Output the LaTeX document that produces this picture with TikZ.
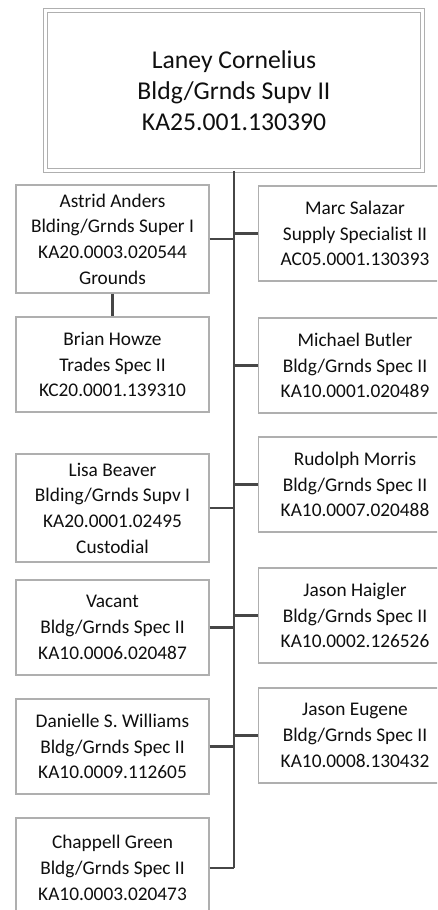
\documentclass[tikz,border=0pt]{standalone}
\usepackage{fontspec}
\setmainfont{Carlito}
\usetikzlibrary{positioning}
\definecolor{boxgray}{RGB}{175,175,175}
\definecolor{linegray}{RGB}{70,70,70}
\definecolor{txtgray}{RGB}{15,15,15}

\begin{document}
\begin{tikzpicture}[x=0.02cm, y=-0.02cm,
  person/.style={draw=boxgray, line width=0.6pt, fill=white, text=txtgray, align=center,
    inner sep=0pt, minimum width=3.86cm, minimum height=1.9cm,
    font=\fontsize{11}{14.6}\selectfont},
  boss/.style={draw=boxgray, double=white, double distance=2pt, line width=0.5pt,
    text=txtgray, align=center, minimum width=7.55cm, minimum height=3.2cm,
    font=\fontsize{14.6}{17.8}\selectfont},
  conn/.style={draw=linegray, line width=1.3pt}]
\clip (0,0) rectangle (437,910);

% Supervisor
\node[boss] (laney) at (234,90.5) {Laney Cornelius\\Bldg/Grnds Supv II\\KA25.001.130390};

% Left column
\node[person, minimum height=2.16cm] (astrid) at (112.5,239) {Astrid Anders\\Blding/Grnds Super I\\KA20.0003.020544\\Grounds};
\node[person] (brian) at (112.5,364.5) {Brian Howze\\Trades Spec II\\KC20.0001.139310};
\node[person, minimum height=2.16cm] (lisa) at (112.5,508) {Lisa Beaver\\Blding/Grnds Supv I\\KA20.0001.02495\\Custodial};
\node[person] (vacant) at (112.5,627.5) {Vacant\\Bldg/Grnds Spec II\\KA10.0006.020487};
\node[person] (danielle) at (112.5,746.5) {Danielle S. Williams\\Bldg/Grnds Spec II\\KA10.0009.112605};
\node[person, minimum height=2cm] (chappell) at (112.5,868) {Chappell Green\\Bldg/Grnds Spec II\\KA10.0003.020473};

% Right column
\node[person] (marc) at (355,233.5) {Marc Salazar\\Supply Specialist II\\AC05.0001.130393};
\node[person] (michael) at (355,365.5) {Michael Butler\\Bldg/Grnds Spec II\\KA10.0001.020489};
\node[person] (rudolph) at (355,484.5) {Rudolph Morris\\Bldg/Grnds Spec II\\KA10.0007.020488};
\node[person] (haigler) at (355,615.5) {Jason Haigler\\Bldg/Grnds Spec II\\KA10.0002.126526};
\node[person] (eugene) at (355,735.5) {Jason Eugene\\Bldg/Grnds Spec II\\KA10.0008.130432};

% Connectors
\draw[conn] (laney.south) -- (laney.south |- chappell.east);
\foreach \n in {astrid,lisa,vacant,danielle,chappell}
  \draw[conn] (\n.east) -- (\n.east -| laney.south);
\foreach \n in {marc,michael,rudolph,haigler,eugene}
  \draw[conn] (\n.west) -- (\n.west -| laney.south);
\draw[conn] (astrid.south) -- (brian.north);
\end{tikzpicture}
\end{document}
